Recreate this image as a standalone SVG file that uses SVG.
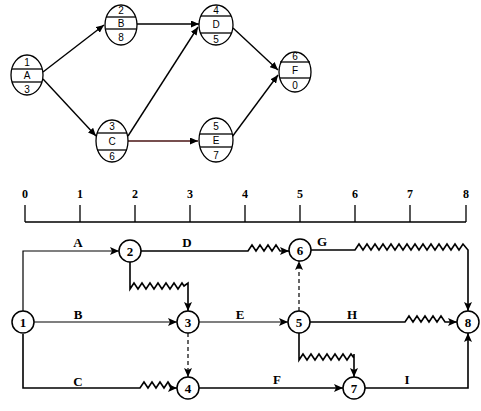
<svg xmlns="http://www.w3.org/2000/svg" width="481" height="411" viewBox="0 0 481 411">
<style>
.e{fill:#fff;stroke:#000;stroke-width:1.3}
.sep{stroke:#000;stroke-width:1.3}
.tt{font-family:"Liberation Sans",Arial,sans-serif;font-size:10px;text-anchor:middle;fill:#000}
.ta{fill:none;stroke:#000;stroke-width:1.4;marker-end:url(#ah)}
.c{fill:#fff;stroke:#000;stroke-width:1.5}
.nt{font-family:"Liberation Serif","Times New Roman",serif;font-weight:bold;font-size:13px;text-anchor:middle;fill:#000}
.lb{font-family:"Liberation Serif","Times New Roman",serif;font-weight:bold;font-size:13px;text-anchor:middle;fill:#000}
.w{fill:none;stroke:#000;stroke-width:1.6;stroke-linejoin:miter;marker-end:url(#ab)}
.thin{stroke-width:1.2}
.d{fill:none;stroke:#000;stroke-width:1.2;stroke-dasharray:4,3;marker-end:url(#ab)}
.ax{fill:none;stroke:#000;stroke-width:1.3}
.num{font-family:"Liberation Serif","Times New Roman",serif;font-weight:bold;font-size:12px;text-anchor:middle;fill:#000}
</style>
<defs>
<marker id="ah" markerUnits="userSpaceOnUse" markerWidth="9" markerHeight="7" refX="8" refY="3.5" orient="auto"><path d="M0,0 L8,3.5 L0,7 z" fill="#000"/></marker>
<marker id="ab" markerUnits="userSpaceOnUse" markerWidth="10" markerHeight="8" refX="9" refY="4" orient="auto"><path d="M0,0 L9,4 L0,8 L2,4 z" fill="#000"/></marker>
</defs>

<!-- top diagram connectors -->
<g id="top-connectors">
<path class="ta" d="M43,72 L104,25"/>
<path class="ta" d="M43,79 L96,136"/>
<path class="ta" d="M137,24 L199,24"/>
<path class="ta" d="M128,136 L198,27"/>
<path class="ta" style="stroke:#4a1515" d="M128,141 L198,141"/>
<path class="ta" d="M233,28 L278,70"/>
<path class="ta" d="M232,137 L278,75"/>
</g>

<g id="tA"><ellipse class="e" cx="27" cy="75" rx="16" ry="20"/><line class="sep" x1="12" y1="69" x2="42" y2="69"/><line class="sep" x1="12" y1="82" x2="42" y2="82"/><text class="tt" x="27" y="66">1</text><text class="tt" x="27" y="79">A</text><text class="tt" x="27" y="93">3</text></g>
<g id="tB"><ellipse class="e" cx="121" cy="25" rx="16" ry="20"/><line class="sep" x1="106" y1="17" x2="136" y2="17"/><line class="sep" x1="106" y1="29" x2="136" y2="29"/><text class="tt" x="121" y="14">2</text><text class="tt" x="121" y="27">B</text><text class="tt" x="121" y="41">8</text></g>
<g id="tC"><ellipse class="e" cx="112" cy="141" rx="16" ry="21"/><line class="sep" x1="97" y1="133" x2="127" y2="133"/><line class="sep" x1="97" y1="150" x2="127" y2="150"/><text class="tt" x="112" y="130">3</text><text class="tt" x="112" y="145">C</text><text class="tt" x="112" y="160">6</text></g>
<g id="tD"><ellipse class="e" cx="216" cy="25" rx="17" ry="20"/><line class="sep" x1="201" y1="16" x2="231" y2="16"/><line class="sep" x1="201" y1="33" x2="231" y2="33"/><text class="tt" x="216" y="14">4</text><text class="tt" x="216" y="28">D</text><text class="tt" x="216" y="43">5</text></g>
<g id="tE"><ellipse class="e" cx="216" cy="140" rx="17" ry="22"/><line class="sep" x1="200" y1="134" x2="232" y2="134"/><line class="sep" x1="200" y1="147" x2="232" y2="147"/><text class="tt" x="216" y="130">5</text><text class="tt" x="216" y="144">E</text><text class="tt" x="216" y="159">7</text></g>
<g id="tF"><ellipse class="e" cx="295" cy="72" rx="16" ry="20"/><line class="sep" x1="280" y1="62" x2="310" y2="62"/><line class="sep" x1="280" y1="78" x2="310" y2="78"/><text class="tt" x="295" y="60">6</text><text class="tt" x="295" y="74">F</text><text class="tt" x="295" y="89">0</text></g>

<!-- time scale -->
<g id="scale">
<path class="ax" d="M25,222 H466 M25,205 V222 M80,205 V222 M135,205 V222 M190,205 V222 M245,205 V222 M300,205 V222 M355,205 V222 M410,205 V222 M466,205 V222"/>
<text class="num" x="25" y="198">0</text><text class="num" x="80" y="198">1</text><text class="num" x="135" y="198">2</text><text class="num" x="190" y="198">3</text><text class="num" x="245" y="198">4</text><text class="num" x="300" y="198">5</text><text class="num" x="355" y="198">6</text><text class="num" x="410" y="198">7</text><text class="num" x="466" y="198">8</text>
</g>

<!-- bottom network connectors -->
<g id="connectors">
<path class="w thin" d="M23,312 V251 H119"/>
<path class="w thin" d="M34,322 H177"/>
<path class="w" d="M23,334 V388 H140 l4,-6 l4,6 l4,-6 l4,6 l4,-6 l4,6 l4,-6 l4,6 H177"/>
<path class="w" d="M141,251 H248 l4,-6 l4,6 l4,-6 l4,6 l4,-6 l4,6 l4,-6 l4,6 H289"/>
<path class="w" d="M130,262 V289 l4,-6 l4,6 l4,-6 l4,6 l4,-6 l4,6 l4,-6 l4,6 l4,-6 l4,6 l4,-6 l4,6 l4,-6 l2,3 L188,283 V311"/>
<path class="d" d="M188,333 V377"/>
<path class="w thin" d="M199,322 H288"/>
<path class="w" d="M199,388 H343"/>
<path class="d" d="M299,311 V261"/>
<path class="w" d="M311,250 H355 l4,-6 l4,6 l4,-6 l4,6 l4,-6 l4,6 l4,-6 l4,6 l4,-6 l4,6 l4,-6 l4,6 l4,-6 l4,6 l4,-6 l4,6 l4,-6 l4,6 l4,-6 l4,6 l4,-6 l4,6 l4,-6 l4,6 l4,-6 l4,6 l4,-6 L468,250 V311"/>
<path class="w" d="M310,322 H405 l4,-6 l4,6 l4,-6 l4,6 l4,-6 l4,6 l4,-6 l4,6 l4,-6 l4,6 H457"/>
<path class="w" d="M299,333 V360 l4,-6 l4,6 l4,-6 l4,6 l4,-6 l4,6 l4,-6 l4,6 l4,-6 l4,6 l4,-6 l4,6 l4,-6 l3,4 L354,354 V377"/>
<path class="w" d="M365,388 H468 V333"/>
</g>

<g id="n1"><circle class="c" cx="23" cy="322" r="11"/><text class="nt" x="23" y="327">1</text></g>
<g id="n2"><circle class="c" cx="130" cy="251" r="11"/><text class="nt" x="130" y="256">2</text></g>
<g id="n3"><circle class="c" cx="188" cy="322" r="11"/><text class="nt" x="188" y="327">3</text></g>
<g id="n4"><circle class="c" cx="188" cy="388" r="11"/><text class="nt" x="188" y="393">4</text></g>
<g id="n5"><circle class="c" cx="299" cy="322" r="11"/><text class="nt" x="299" y="327">5</text></g>
<g id="n6"><circle class="c" cx="300" cy="250" r="11"/><text class="nt" x="300" y="255">6</text></g>
<g id="n7"><circle class="c" cx="354" cy="388" r="11"/><text class="nt" x="354" y="393">7</text></g>
<g id="n8"><circle class="c" cx="468" cy="322" r="11"/><text class="nt" x="468" y="327">8</text></g>

<g id="labels">
<text class="lb" x="78" y="247">A</text>
<text class="lb" x="187" y="247">D</text>
<text class="lb" x="322" y="246">G</text>
<text class="lb" x="78" y="319">B</text>
<text class="lb" x="240" y="319">E</text>
<text class="lb" x="352" y="319">H</text>
<text class="lb" x="78" y="386">C</text>
<text class="lb" x="277" y="384">F</text>
<text class="lb" x="407" y="384">I</text>
</g>
</svg>
